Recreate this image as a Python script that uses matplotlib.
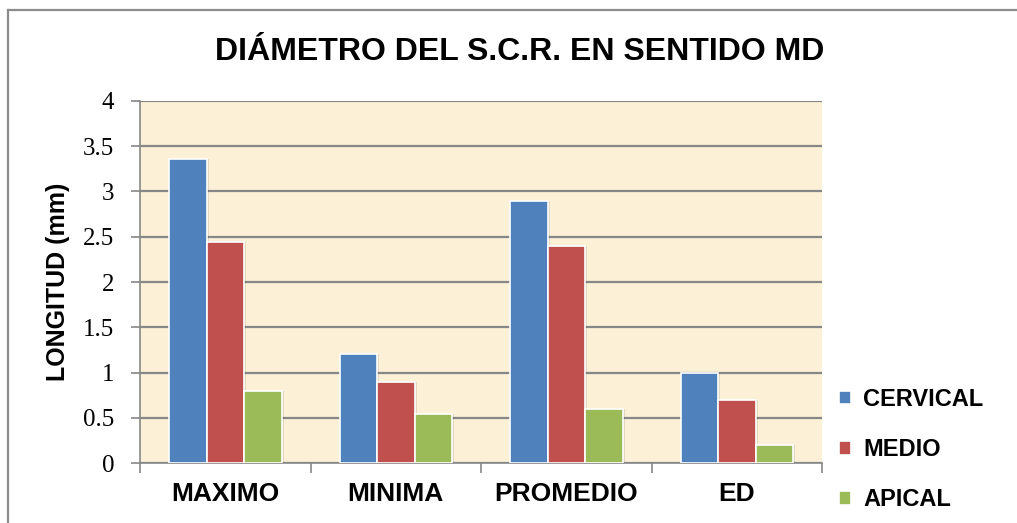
import numpy as np
import matplotlib
matplotlib.use("Agg")
import matplotlib.pyplot as plt
from matplotlib.lines import Line2D

categorias = ['MAXIMO', 'MINIMA', 'PROMEDIO', 'ED']
cervical = [3.36, 1.2, 2.9, 1.0]
medio = [2.44, 0.9, 2.4, 0.7]
apical = [0.8, 0.54, 0.6, 0.2]

series = [('CERVICAL', cervical, '#4F81BD'),
          ('MEDIO', medio, '#C0504D'),
          ('APICAL', apical, '#9BBB59')]

fig = plt.figure(figsize=(10.17, 5.23), dpi=100)
ax = fig.add_axes([0.1377, 0.1147, 0.6706, 0.6922])
ax.set_facecolor('#FCF0D7')

x = np.arange(len(categorias))
ancho = 0.22
for i, (nombre, vals, color) in enumerate(series):
    pos = x + (i - 1) * ancho
    # sombra suave detras de cada barra
    ax.bar(pos + 0.012, vals, ancho, color='#000000', alpha=0.10, zorder=2,
           linewidth=0)
    ax.bar(pos, vals, ancho, color=color, edgecolor='white', linewidth=1.2,
           label=nombre, zorder=3)

ax.set_xlim(-0.5, len(categorias) - 0.5)
ax.set_ylim(0, 4)
ax.set_yticks(np.arange(0, 4.01, 0.5))
ax.set_yticklabels(['0', '0.5', '1', '1.5', '2', '2.5', '3', '3.5', '4'],
                   fontfamily='Liberation Serif', fontsize=18)
ax.yaxis.grid(True, color='#878787', linewidth=1.6, zorder=1)
ax.set_axisbelow(True)

ax.set_xticks(np.arange(-0.5, len(categorias), 1.0))
ax.set_xticklabels([])
ax.set_xticks(x, minor=True)
ax.set_xticklabels(categorias, minor=True, fontfamily='Liberation Sans',
                   fontweight='bold', fontsize=19)
ax.tick_params(axis='x', which='minor', length=0, pad=14)
ax.tick_params(axis='x', which='major', length=7, width=1.2, color='#878787')
ax.tick_params(axis='y', length=6.5, width=1.2, color='#878787', pad=12)

for lado in ['top', 'right']:
    ax.spines[lado].set_visible(False)
for lado in ['left', 'bottom']:
    ax.spines[lado].set_color('#878787')
    ax.spines[lado].set_linewidth(1.2)

fig.text(0.057, 0.461, 'LONGITUD (mm)', rotation=90,
         fontfamily='Liberation Sans', fontweight='bold', fontsize=18,
         ha='center', va='center')

fig.text(0.511, 0.900, 'DIÁMETRO DEL S.C.R. EN SENTIDO MD',
         fontfamily='Liberation Sans', fontweight='bold', fontsize=23,
         ha='center', va='center')

leg = fig.legend(loc='upper left', bbox_to_anchor=(0.816, 0.276),
                 frameon=False, handlelength=0.5, handleheight=0.5,
                 handletextpad=0.5, labelspacing=1.15, borderaxespad=0,
                 prop={'family': 'Liberation Sans', 'weight': 'bold', 'size': 17})

# marco gris del grafico (arriba e izquierda)
fig.add_artist(Line2D([8 / 1017, 1.0], [1 - 10 / 523, 1 - 10 / 523],
                      transform=fig.transFigure, color='#8C8C8C', linewidth=1.6))
fig.add_artist(Line2D([8 / 1017, 8 / 1017], [0.0, 1 - 10 / 523],
                      transform=fig.transFigure, color='#8C8C8C', linewidth=1.6))

fig.savefig('out.png', dpi=100)
